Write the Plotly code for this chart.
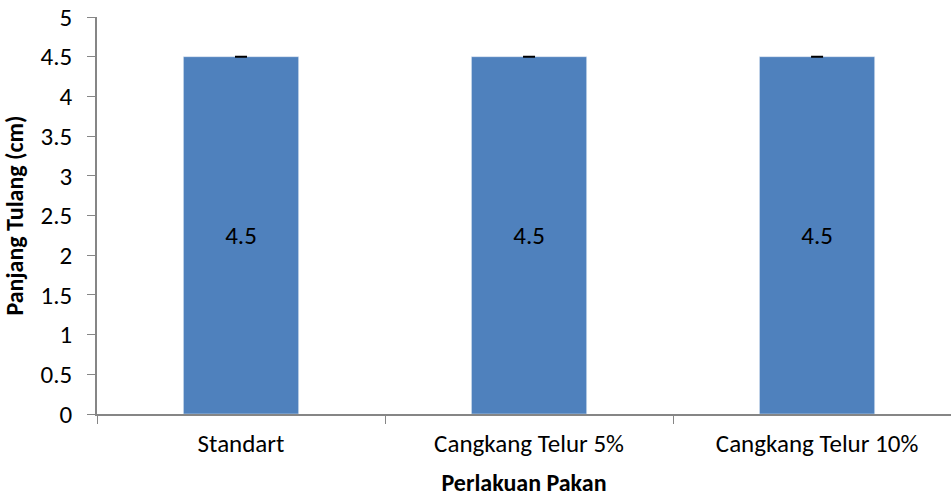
import plotly.graph_objects as go

categories = ["Standart", "Cangkang Telur 5%", "Cangkang Telur 10%"]
values = [4.5, 4.5, 4.5]
errors = [0, 0, 0]
labels = ["4.5", "4.5", "4.5"]
y_ticks = [0, 0.5, 1, 1.5, 2, 2.5, 3, 3.5, 4, 4.5, 5]
y_tick_text = ["0", "0.5", "1", "1.5", "2", "2.5", "3", "3.5", "4", "4.5", "5"]

FONT = "Carlito, Calibri, Lato, sans-serif"
FS = 25

fig = go.Figure(go.Bar(
    x=categories, y=values, text=labels, textposition="inside",
    insidetextanchor="middle",
    textfont=dict(family=FONT, size=FS, color="black"),
    marker=dict(color="#4F81BD"), width=0.4,
    error_y=dict(type="data", array=errors, visible=True, color="black",
                 thickness=2, width=6),
))

fig.update_layout(
    width=951, height=497,
    margin=dict(l=97, r=0, t=17, b=83),
    paper_bgcolor="white", plot_bgcolor="white",
    showlegend=False,
    font=dict(family=FONT, size=FS, color="black"),
    xaxis=dict(
        range=[-0.5, 2.465], showline=True, linecolor="#868686", linewidth=1.5,
        ticks="outside", tickson="boundaries", ticklen=8, tickcolor="#868686",
        showgrid=False, tickfont=dict(size=FS), ticklabelstandoff=6,
        title=dict(text="<b>Perlakuan Pakan</b>", font=dict(size=FS-1), standoff=16),
    ),
    yaxis=dict(
        range=[0, 5], tickvals=y_ticks, ticktext=y_tick_text,
        showline=True, linecolor="#868686", linewidth=1.5,
        ticks="outside", ticklen=8, tickcolor="#868686",
        showgrid=False, zeroline=False, tickfont=dict(size=FS), ticklabelstandoff=10,
        title=dict(text="<b>Panjang Tulang (cm)</b>", font=dict(size=FS-1), standoff=12),
    ),
)

fig.write_html("out.html")
